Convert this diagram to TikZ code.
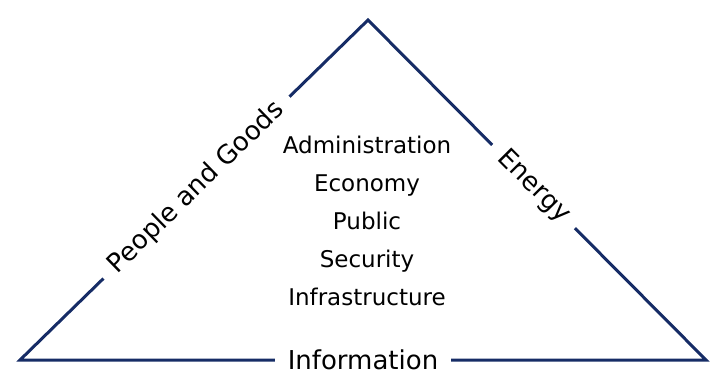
\documentclass[tikz,border=0pt]{standalone}
\usepackage{fontspec}
\setmainfont{DejaVu Sans}
\usetikzlibrary{positioning}
\definecolor{navy}{RGB}{22,44,102}
\newdimen\lineDist
\lineDist=38pt

\begin{document}
\begin{tikzpicture}[
    x=1pt, y=-1pt,
    side/.style={%
      draw=navy,
      line width=3pt,
      line join=miter,
    },
    sidelabel/.style={%
      fill=white,
      sloped,
      inner xsep=13pt,
      inner ysep=2pt,
      font=\fontsize{26}{30}\selectfont,
    },
    sector/.style={%
      anchor=base,
      font=\fontsize{23}{27}\selectfont,
    },
  ]

    \useasboundingbox (0,0) rectangle (710,372);

    \coordinate (L) at (20,360);
    \coordinate (T) at (368,20);
    \coordinate (R) at (706,360);

    \node [sector] (adm) at (367,153) {Administration};
    \path (adm.base) ++(-90:\lineDist) node [sector] (eco) {Economy};
    \path (eco.base) ++(-90:\lineDist) node [sector] (pub) {Public};
    \path (pub.base) ++(-90:\lineDist) node [sector] (sec) {Security};
    \path (sec.base) ++(-90:\lineDist) node [sector] (infra) {Infrastructure};

    \draw [side] (L) -- node [sidelabel,pos=0.507] (pg) {People and Goods} (T)
      -- node [sidelabel,pos=0.49] (en) {Energy} (R)
      -- node [sidelabel,pos=0.5] (inf) {Information} cycle;
\end{tikzpicture}
\end{document}
